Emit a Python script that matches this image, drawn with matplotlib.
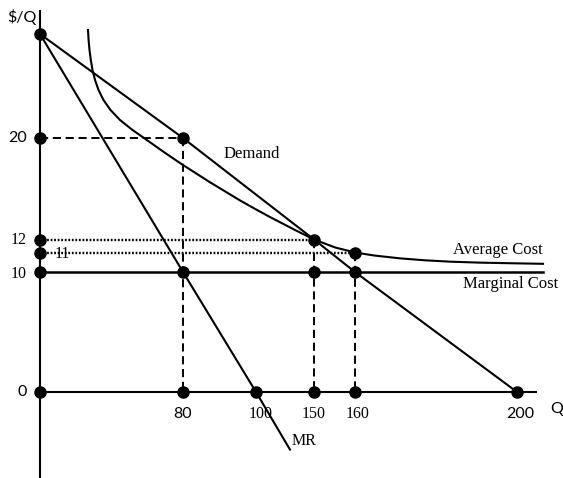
import numpy as np
import matplotlib
matplotlib.use("Agg")
import matplotlib.pyplot as plt

# ---------------- data ----------------
q_ticks = [80, 100, 150, 160, 200]
q_tick_labels = ["80", "100", "150", "160", "200"]
p_ticks = [0, 10, 12, 20]
p_tick_labels = ["0", "10", "12", "20"]
p_inner_tick = 11         # the "11" label sitting right of the axis

demand_q = [0, 80, 150, 160, 200]
demand_p = [30, 20, 12, 10, 0]

mr_q = [0, 80, 100, 129.3]
mr_p = [30, 10, 0, -4.8]

ac_q = [26.85, 27.19, 27.69, 28.42, 29.37, 30.77, 32.73, 35.52, 39.44, 44.76,
        51.75, 58.18, 69.93, 80.0, 87.40, 95.62, 100.0, 112.07, 133.62, 150.0,
        155.12, 160.0, 164.94, 171.11, 177.28, 183.46, 190.86, 198.27, 206.42]
ac_p = [30.38, 29.42, 28.46, 27.50, 26.54, 25.58, 24.62, 23.65, 22.69, 21.73,
        20.77, 20.00, 18.83, 17.87, 16.51, 15.08, 14.37, 13.77, 12.75, 12.0,
        11.39, 11.0, 10.84, 10.70, 10.60, 10.53, 10.48, 10.45, 10.42]

mc_p = 10
mc_q_end = 206.4

# key points marked with dots
pts_q = [0, 0, 0, 0, 0, 0, 80, 100, 150, 160, 200, 80, 150, 160, 80, 150, 160]
pts_p = [30, 20, 12, 11, 10, 0, 0, 0, 0, 0, 0, 20, 12, 11, 10, 10, 10]

# ---------------- layout: schematic (non-uniform) axis spacing ----------------
W, H = 563, 478
X_BREAK_V = [0, 80, 100, 150, 160, 200]
X_BREAK_PX = [40, 183, 256, 314, 355, 517]
Y_BREAK_V = [0, 10, 11, 12, 20, 30]
Y_BREAK_PX = [392, 272, 252.5, 239.5, 138, 34]


def piecewise(src, dst):
    src = np.asarray(src, float)
    dst = np.asarray(dst, float)
    s0 = (dst[1] - dst[0]) / (src[1] - src[0])
    s1 = (dst[-1] - dst[-2]) / (src[-1] - src[-2])

    def f(v):
        v = np.asarray(v, float)
        out = np.interp(v, src, dst)
        out = np.where(v < src[0], dst[0] + (v - src[0]) * s0, out)
        out = np.where(v > src[-1], dst[-1] + (v - src[-1]) * s1, out)
        return out
    return f


fx = piecewise(X_BREAK_V, X_BREAK_PX)
fx_inv = piecewise(X_BREAK_PX, X_BREAK_V)
neg_y = [-p for p in Y_BREAK_PX]
fy = piecewise(Y_BREAK_V, neg_y)
fy_inv = piecewise(neg_y, Y_BREAK_V)

fig = plt.figure(figsize=(W / 100, H / 100), dpi=100)
ax = fig.add_axes([0, 0, 1, 1])
ax.set_xscale("function", functions=(fx, fx_inv))
ax.set_yscale("function", functions=(fy, fy_inv))
ax.set_xlim(float(fx_inv(0)), float(fx_inv(W)))
ax.set_ylim(float(fy_inv(-H)), float(fy_inv(0)))
ax.axis("off")

SERIF = ["Liberation Serif", "DejaVu Serif"]
SANS = ["Lato", "DejaVu Sans"]
LW = 1.5
K = "black"

# axes
ax.plot([0, 0], [float(fy_inv(-H)), float(fy_inv(-9.5))], color=K, lw=LW, solid_capstyle="butt")
ax.plot([0, float(fx_inv(537))], [0, 0], color=K, lw=LW, solid_capstyle="butt")

# curves
ax.plot(demand_q, demand_p, color=K, lw=LW)
ax.plot(mr_q, mr_p, color=K, lw=LW)
ax.plot(ac_q, ac_p, color=K, lw=LW, solid_joinstyle="round")
ax.plot([0, mc_q_end], [mc_p, mc_p], color=K, lw=1.8)

# dashed / dotted guides
dash = dict(color=K, lw=1.4, dashes=(4.2, 2.4))
ax.plot([0, 80], [20, 20], **dash)
ax.plot([80, 80], [20, 0], **dash)
ax.plot([150, 150], [12, 0], **dash)
ax.plot([160, 160], [11, 0], **dash)
dot = dict(color=K, lw=1.7, dashes=(0.75, 0.75))
ax.plot([0, 150], [12, 12], **dot)
ax.plot([0, 160], [11, 11], **dot)

# dots
ax.plot(pts_q, pts_p, "o", color=K, ms=8, zorder=5)

# tick labels
sans_x = {"80", "200"}
for q, lab in zip(q_ticks, q_tick_labels):
    fam = SANS if lab in sans_x else SERIF
    dx = 5 if lab == "100" else (3 if lab in ("160", "200") else 0)
    ax.annotate(lab, (q, 0), xytext=(dx * 0.72, -15.5), textcoords="offset points",
                ha="center", va="center", fontsize=11.5, family=fam)
sans_y = {"0", "20"}
for p, lab in zip(p_ticks, p_tick_labels):
    fam = SANS if lab in sans_y else SERIF
    dy = -2 if lab == "10" else 0
    ax.annotate(lab, (0, p), xytext=(-13 * 0.72, dy * 0.72), textcoords="offset points",
                ha="right", va="center", fontsize=11.5, family=fam)
ax.annotate(str(p_inner_tick), (0, p_inner_tick), xytext=(15 * 0.72, -2 * 0.72),
            textcoords="offset points", ha="left", va="center", fontsize=11.5, family=SERIF)


def ftext(x, y, s, ha="center", fam=SERIF, size=12):
    fig.text(x / W, 1 - y / H, s, ha=ha, va="center", fontsize=size, family=fam)


ftext(22, 17, "$/Q", fam=SANS, size=11.5)
ftext(557, 409, "Q", fam=SANS, size=11.5)
ftext(251.5, 154, "Demand")
ftext(543, 250, "Average Cost", ha="right")
ftext(463, 284, "Marginal Cost", ha="left")
ftext(304.5, 441, "MR", size=11.5)

fig.savefig("out.png", dpi=100)
